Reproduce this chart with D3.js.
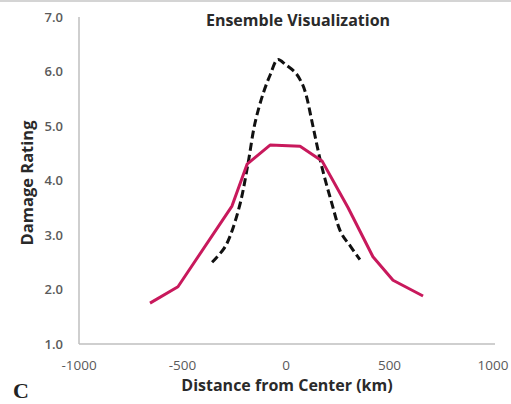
<!DOCTYPE html>
<html>
<head>
<meta charset="utf-8">
<script src="https://cdn.jsdelivr.net/npm/d3@7"></script>
<style>
  body { margin: 0; background: #fff; }
  svg { display: block; font-family: "Open Sans", "DejaVu Sans", sans-serif; }
</style>
</head>
<body>
<div id="vis"></div>
<script>
// values
const ensembleX = [-657, -522, -261, -188, -77, 68, 174, 300, 420, 517, 662];
const ensembleY = [1.75, 2.05, 3.53, 4.30, 4.65, 4.63, 4.36, 3.50, 2.60, 2.17, 1.88];
const dashedX = [-357, -300, -270, -220, -184, -150, -110, -75, -40, 0, 45, 75, 95, 130, 170, 220, 265, 310, 357];
const dashedY = [2.5, 2.75, 2.98, 3.6, 4.3, 5.05, 5.6, 5.95, 6.22, 6.12, 5.98, 5.8, 5.6, 5.0, 4.3, 3.6, 3.05, 2.8, 2.55];
const xTicks = [-1000, -500, 0, 500, 1000];
const yTicks = [1, 2, 3, 4, 5, 6, 7];

const WIDTH = 511;
const HEIGHT = 404;

const svg = d3.select("#vis").append("svg")
  .attr("width", WIDTH)
  .attr("height", HEIGHT);

// faint frame at the top of the scan
svg.append("line")
  .attr("x1", 0).attr("x2", WIDTH)
  .attr("y1", 1).attr("y2", 1)
  .attr("stroke", "#d4d4d4")
  .attr("stroke-width", 2);

const escalaX = d3.scaleLinear()
  .domain([-1000, 1000])
  .range([79, 493]);

const escalaY = d3.scaleLinear()
  .domain([1, 7])
  .range([344, 17]);

// axis lines
svg.append("line")
  .attr("x1", escalaX(-1000)).attr("x2", escalaX(-1000))
  .attr("y1", escalaY(7)).attr("y2", escalaY(1))
  .attr("stroke", "#bfbfbf").attr("stroke-width", 1.5);
svg.append("line")
  .attr("x1", escalaX(-1000)).attr("x2", 495)
  .attr("y1", escalaY(1)).attr("y2", escalaY(1))
  .attr("stroke", "#bfbfbf").attr("stroke-width", 1.5);

// tick labels
svg.append("g").selectAll("text")
  .data(yTicks).join("text")
  .attr("x", 63)
  .attr("y", (d) => escalaY(d))
  .attr("dy", "0.35em")
  .attr("text-anchor", "end")
  .attr("font-size", 13)
  .attr("font-weight", 600)
  .attr("fill", "#5a5a5a")
  .text((d) => d3.format(".1f")(d));

svg.append("g").selectAll("text")
  .data(xTicks).join("text")
  .attr("x", (d) => escalaX(d))
  .attr("y", 365)
  .attr("dy", "0.35em")
  .attr("text-anchor", "middle")
  .attr("font-size", 13.5)
  .attr("fill", "#5a5a5a")
  .text((d) => d);

// titles
svg.append("text")
  .attr("x", 298).attr("y", 26)
  .attr("text-anchor", "middle")
  .attr("font-size", 16)
  .attr("font-weight", "bold")
  .attr("fill", "#2a2a2a")
  .text("Ensemble Visualization");

svg.append("text")
  .attr("x", 287).attr("y", 391)
  .attr("text-anchor", "middle")
  .attr("font-size", 16)
  .attr("font-weight", "bold")
  .attr("fill", "#2a2a2a")
  .text("Distance from Center (km)");

svg.append("text")
  .attr("transform", "translate(33, 183) rotate(-90)")
  .attr("text-anchor", "middle")
  .attr("font-size", 16.5)
  .attr("font-weight", "bold")
  .attr("fill", "#2a2a2a")
  .text("Damage Rating");

svg.append("text")
  .attr("x", 13).attr("y", 398)
  .attr("font-family", "'Liberation Serif', 'DejaVu Serif', serif")
  .attr("font-size", 22)
  .attr("font-weight", "bold")
  .attr("fill", "#222")
  .text("C");

// lines
const linea = d3.line()
  .x((d) => escalaX(d[0]))
  .y((d) => escalaY(d[1]));

svg.append("path")
  .datum(dashedX.map((x, i) => [x, dashedY[i]]))
  .attr("d", linea.curve(d3.curveCatmullRom))
  .attr("fill", "none")
  .attr("stroke", "#111")
  .attr("stroke-width", 3)
  .attr("stroke-dasharray", "8 4");

svg.append("path")
  .datum(ensembleX.map((x, i) => [x, ensembleY[i]]))
  .attr("d", linea.curve(d3.curveLinear))
  .attr("fill", "none")
  .attr("stroke", "#c8195c")
  .attr("stroke-width", 3)
  .attr("stroke-linejoin", "round");
</script>
</body>
</html>
